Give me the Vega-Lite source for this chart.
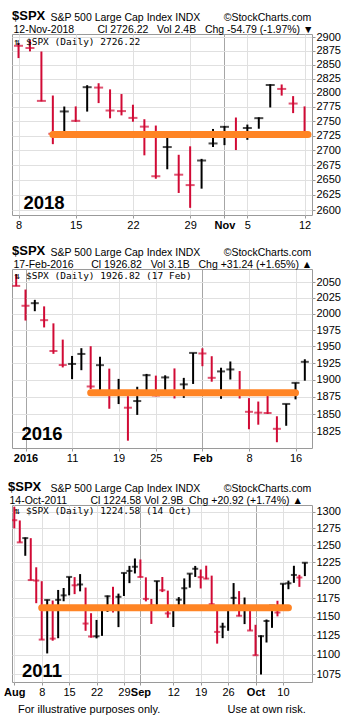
{
  "$schema": "https://vega.github.io/schema/vega-lite/v6.json",
  "padding": {"left": 3, "top": 9, "right": 0, "bottom": 0},
  "background": "white",
  "spacing": 13,
  "title": {"text": "For illustrative purposes only.\u00a0\u00a0\u00a0\u00a0\u00a0\u00a0\u00a0\u00a0\u00a0\u00a0\u00a0\u00a0\u00a0\u00a0\u00a0\u00a0\u00a0\u00a0\u00a0\u00a0\u00a0\u00a0Use at own risk.", "orient": "bottom", "anchor": "start", "frame": "group", "font": "Liberation Sans", "fontSize": 11, "fontWeight": "normal", "color": "#000000", "offset": 6, "dx": 6},
  "datasets": {
    "y2018": [
      {"d": "2018-10-08", "i": 0, "h": 2889.45, "l": 2862.08, "c": 2884.43, "dir": "down"},
      {"d": "2018-10-09", "i": 1, "h": 2894.83, "l": 2874.27, "c": 2880.34, "dir": "down"},
      {"d": "2018-10-10", "i": 2, "h": 2874.02, "l": 2784.86, "c": 2785.68, "dir": "down"},
      {"d": "2018-10-11", "i": 3, "h": 2795.14, "l": 2710.51, "c": 2728.37, "dir": "down"},
      {"d": "2018-10-12", "i": 4, "h": 2775.77, "l": 2729.44, "c": 2767.13, "dir": "up"},
      {"d": "2018-10-15", "i": 5, "h": 2775.99, "l": 2749.03, "c": 2750.79, "dir": "down"},
      {"d": "2018-10-16", "i": 6, "h": 2813.46, "l": 2766.91, "c": 2809.92, "dir": "up"},
      {"d": "2018-10-17", "i": 7, "h": 2816.94, "l": 2781.81, "c": 2809.21, "dir": "down"},
      {"d": "2018-10-18", "i": 8, "h": 2806.04, "l": 2755.18, "c": 2768.78, "dir": "down"},
      {"d": "2018-10-19", "i": 9, "h": 2797.77, "l": 2760.27, "c": 2767.78, "dir": "down"},
      {"d": "2018-10-22", "i": 10, "h": 2778.94, "l": 2749.22, "c": 2755.88, "dir": "down"},
      {"d": "2018-10-23", "i": 11, "h": 2753.59, "l": 2691.43, "c": 2740.69, "dir": "down"},
      {"d": "2018-10-24", "i": 12, "h": 2742.59, "l": 2651.89, "c": 2656.10, "dir": "down"},
      {"d": "2018-10-25", "i": 13, "h": 2722.70, "l": 2667.84, "c": 2705.57, "dir": "up"},
      {"d": "2018-10-26", "i": 14, "h": 2692.38, "l": 2628.16, "c": 2658.69, "dir": "down"},
      {"d": "2018-10-29", "i": 15, "h": 2706.85, "l": 2603.54, "c": 2641.25, "dir": "down"},
      {"d": "2018-10-30", "i": 16, "h": 2685.43, "l": 2635.34, "c": 2682.63, "dir": "up"},
      {"d": "2018-10-31", "i": 17, "h": 2736.69, "l": 2705.60, "c": 2711.74, "dir": "up"},
      {"d": "2018-11-01", "i": 18, "h": 2741.67, "l": 2708.85, "c": 2740.37, "dir": "up"},
      {"d": "2018-11-02", "i": 19, "h": 2756.55, "l": 2700.44, "c": 2723.06, "dir": "down"},
      {"d": "2018-11-05", "i": 20, "h": 2744.27, "l": 2717.94, "c": 2738.31, "dir": "up"},
      {"d": "2018-11-06", "i": 21, "h": 2756.82, "l": 2737.08, "c": 2755.45, "dir": "up"},
      {"d": "2018-11-07", "i": 22, "h": 2815.15, "l": 2774.13, "c": 2813.89, "dir": "up"},
      {"d": "2018-11-08", "i": 23, "h": 2814.75, "l": 2794.99, "c": 2806.83, "dir": "down"},
      {"d": "2018-11-09", "i": 24, "h": 2794.10, "l": 2764.24, "c": 2781.01, "dir": "down"},
      {"d": "2018-11-12", "i": 25, "h": 2775.99, "l": 2722.00, "c": 2726.22, "dir": "down"}
    ],
    "y2016": [
      {"d": "2015-12-31", "i": -1, "h": 2062.54, "l": 2043.62, "c": 2043.94, "dir": "down"},
      {"d": "2016-01-04", "i": 0, "h": 2038.20, "l": 1989.68, "c": 2012.66, "dir": "down"},
      {"d": "2016-01-05", "i": 1, "h": 2021.94, "l": 2004.17, "c": 2016.71, "dir": "up"},
      {"d": "2016-01-06", "i": 2, "h": 2011.71, "l": 1979.05, "c": 1990.26, "dir": "down"},
      {"d": "2016-01-07", "i": 3, "h": 1985.32, "l": 1938.83, "c": 1943.09, "dir": "down"},
      {"d": "2016-01-08", "i": 4, "h": 1960.40, "l": 1918.46, "c": 1922.03, "dir": "down"},
      {"d": "2016-01-11", "i": 5, "h": 1935.65, "l": 1901.10, "c": 1923.67, "dir": "up"},
      {"d": "2016-01-12", "i": 6, "h": 1947.38, "l": 1914.35, "c": 1938.68, "dir": "up"},
      {"d": "2016-01-13", "i": 7, "h": 1950.33, "l": 1886.41, "c": 1890.28, "dir": "down"},
      {"d": "2016-01-14", "i": 8, "h": 1934.47, "l": 1878.93, "c": 1921.84, "dir": "up"},
      {"d": "2016-01-15", "i": 9, "h": 1916.68, "l": 1857.83, "c": 1880.33, "dir": "down"},
      {"d": "2016-01-19", "i": 10, "h": 1901.44, "l": 1864.60, "c": 1881.33, "dir": "up"},
      {"d": "2016-01-20", "i": 11, "h": 1876.18, "l": 1812.29, "c": 1859.33, "dir": "down"},
      {"d": "2016-01-21", "i": 12, "h": 1889.85, "l": 1848.98, "c": 1868.99, "dir": "up"},
      {"d": "2016-01-22", "i": 13, "h": 1908.85, "l": 1877.40, "c": 1906.90, "dir": "up"},
      {"d": "2016-01-25", "i": 14, "h": 1906.28, "l": 1875.97, "c": 1877.08, "dir": "down"},
      {"d": "2016-01-26", "i": 15, "h": 1906.73, "l": 1878.79, "c": 1903.63, "dir": "up"},
      {"d": "2016-01-27", "i": 16, "h": 1916.99, "l": 1872.70, "c": 1882.95, "dir": "down"},
      {"d": "2016-01-28", "i": 17, "h": 1902.96, "l": 1873.65, "c": 1893.36, "dir": "up"},
      {"d": "2016-01-29", "i": 18, "h": 1940.24, "l": 1894.00, "c": 1940.24, "dir": "up"},
      {"d": "2016-02-01", "i": 19, "h": 1947.20, "l": 1920.30, "c": 1939.38, "dir": "down"},
      {"d": "2016-02-02", "i": 20, "h": 1935.26, "l": 1897.29, "c": 1903.03, "dir": "down"},
      {"d": "2016-02-03", "i": 21, "h": 1918.01, "l": 1872.23, "c": 1912.53, "dir": "up"},
      {"d": "2016-02-04", "i": 22, "h": 1927.35, "l": 1900.52, "c": 1915.45, "dir": "up"},
      {"d": "2016-02-05", "i": 23, "h": 1913.07, "l": 1872.65, "c": 1880.05, "dir": "down"},
      {"d": "2016-02-08", "i": 24, "h": 1873.25, "l": 1828.46, "c": 1853.44, "dir": "down"},
      {"d": "2016-02-09", "i": 25, "h": 1868.25, "l": 1834.94, "c": 1852.21, "dir": "down"},
      {"d": "2016-02-10", "i": 26, "h": 1881.60, "l": 1850.32, "c": 1851.86, "dir": "down"},
      {"d": "2016-02-11", "i": 27, "h": 1847.00, "l": 1810.10, "c": 1829.08, "dir": "down"},
      {"d": "2016-02-12", "i": 28, "h": 1864.78, "l": 1833.40, "c": 1864.78, "dir": "up"},
      {"d": "2016-02-16", "i": 29, "h": 1895.77, "l": 1871.44, "c": 1895.58, "dir": "up"},
      {"d": "2016-02-17", "i": 30, "h": 1930.68, "l": 1898.80, "c": 1926.82, "dir": "up"}
    ],
    "y2011": [
      {"d": "2011-08-01", "i": 0, "h": 1307.38, "l": 1274.73, "c": 1286.94, "dir": "down"},
      {"d": "2011-08-02", "i": 1, "h": 1286.56, "l": 1254.03, "c": 1254.05, "dir": "down"},
      {"d": "2011-08-03", "i": 2, "h": 1261.20, "l": 1234.56, "c": 1260.34, "dir": "up"},
      {"d": "2011-08-04", "i": 3, "h": 1260.23, "l": 1199.54, "c": 1200.07, "dir": "down"},
      {"d": "2011-08-05", "i": 4, "h": 1218.11, "l": 1168.09, "c": 1199.38, "dir": "down"},
      {"d": "2011-08-08", "i": 5, "h": 1198.48, "l": 1119.28, "c": 1119.46, "dir": "down"},
      {"d": "2011-08-09", "i": 6, "h": 1172.88, "l": 1101.54, "c": 1172.53, "dir": "up"},
      {"d": "2011-08-10", "i": 7, "h": 1171.77, "l": 1118.01, "c": 1120.76, "dir": "down"},
      {"d": "2011-08-11", "i": 8, "h": 1186.29, "l": 1121.30, "c": 1172.64, "dir": "up"},
      {"d": "2011-08-12", "i": 9, "h": 1189.04, "l": 1170.74, "c": 1178.81, "dir": "up"},
      {"d": "2011-08-15", "i": 10, "h": 1204.49, "l": 1178.86, "c": 1204.49, "dir": "up"},
      {"d": "2011-08-16", "i": 11, "h": 1204.22, "l": 1180.53, "c": 1192.76, "dir": "down"},
      {"d": "2011-08-17", "i": 12, "h": 1208.47, "l": 1184.36, "c": 1193.89, "dir": "up"},
      {"d": "2011-08-18", "i": 13, "h": 1189.62, "l": 1131.03, "c": 1140.65, "dir": "down"},
      {"d": "2011-08-19", "i": 14, "h": 1154.54, "l": 1122.05, "c": 1123.53, "dir": "down"},
      {"d": "2011-08-22", "i": 15, "h": 1145.49, "l": 1121.09, "c": 1123.82, "dir": "up"},
      {"d": "2011-08-23", "i": 16, "h": 1162.35, "l": 1124.36, "c": 1162.35, "dir": "up"},
      {"d": "2011-08-24", "i": 17, "h": 1178.56, "l": 1156.30, "c": 1177.60, "dir": "up"},
      {"d": "2011-08-25", "i": 18, "h": 1190.68, "l": 1155.47, "c": 1159.27, "dir": "down"},
      {"d": "2011-08-26", "i": 19, "h": 1181.23, "l": 1135.91, "c": 1176.80, "dir": "up"},
      {"d": "2011-08-29", "i": 20, "h": 1210.28, "l": 1177.91, "c": 1210.08, "dir": "up"},
      {"d": "2011-08-30", "i": 21, "h": 1220.10, "l": 1195.77, "c": 1212.92, "dir": "up"},
      {"d": "2011-08-31", "i": 22, "h": 1230.71, "l": 1209.35, "c": 1218.89, "dir": "up"},
      {"d": "2011-09-01", "i": 23, "h": 1229.29, "l": 1203.85, "c": 1204.42, "dir": "down"},
      {"d": "2011-09-02", "i": 24, "h": 1203.90, "l": 1170.56, "c": 1173.97, "dir": "down"},
      {"d": "2011-09-06", "i": 25, "h": 1173.97, "l": 1140.13, "c": 1165.24, "dir": "down"},
      {"d": "2011-09-07", "i": 26, "h": 1198.62, "l": 1165.85, "c": 1198.62, "dir": "up"},
      {"d": "2011-09-08", "i": 27, "h": 1204.40, "l": 1183.34, "c": 1185.90, "dir": "down"},
      {"d": "2011-09-09", "i": 28, "h": 1185.37, "l": 1148.37, "c": 1154.23, "dir": "down"},
      {"d": "2011-09-12", "i": 29, "h": 1162.52, "l": 1136.07, "c": 1162.27, "dir": "up"},
      {"d": "2011-09-13", "i": 30, "h": 1176.41, "l": 1157.44, "c": 1172.87, "dir": "up"},
      {"d": "2011-09-14", "i": 31, "h": 1202.38, "l": 1162.73, "c": 1188.68, "dir": "up"},
      {"d": "2011-09-15", "i": 32, "h": 1209.11, "l": 1189.44, "c": 1209.11, "dir": "up"},
      {"d": "2011-09-16", "i": 33, "h": 1220.06, "l": 1204.46, "c": 1216.01, "dir": "up"},
      {"d": "2011-09-19", "i": 34, "h": 1214.99, "l": 1188.36, "c": 1204.09, "dir": "down"},
      {"d": "2011-09-20", "i": 35, "h": 1220.39, "l": 1201.29, "c": 1202.09, "dir": "down"},
      {"d": "2011-09-21", "i": 36, "h": 1206.30, "l": 1166.21, "c": 1166.76, "dir": "down"},
      {"d": "2011-09-22", "i": 37, "h": 1164.55, "l": 1114.22, "c": 1129.56, "dir": "down"},
      {"d": "2011-09-23", "i": 38, "h": 1141.72, "l": 1121.36, "c": 1136.43, "dir": "up"},
      {"d": "2011-09-26", "i": 39, "h": 1164.19, "l": 1131.07, "c": 1162.95, "dir": "up"},
      {"d": "2011-09-27", "i": 40, "h": 1195.86, "l": 1163.32, "c": 1175.38, "dir": "up"},
      {"d": "2011-09-28", "i": 41, "h": 1184.71, "l": 1150.40, "c": 1151.06, "dir": "down"},
      {"d": "2011-09-29", "i": 42, "h": 1175.87, "l": 1139.93, "c": 1160.40, "dir": "up"},
      {"d": "2011-09-30", "i": 43, "h": 1159.93, "l": 1131.34, "c": 1131.42, "dir": "down"},
      {"d": "2011-10-03", "i": 44, "h": 1138.99, "l": 1098.92, "c": 1099.23, "dir": "down"},
      {"d": "2011-10-04", "i": 45, "h": 1125.12, "l": 1074.77, "c": 1123.95, "dir": "up"},
      {"d": "2011-10-05", "i": 46, "h": 1146.07, "l": 1115.68, "c": 1144.03, "dir": "up"},
      {"d": "2011-10-06", "i": 47, "h": 1165.55, "l": 1134.95, "c": 1164.97, "dir": "up"},
      {"d": "2011-10-07", "i": 48, "h": 1171.40, "l": 1150.26, "c": 1155.46, "dir": "down"},
      {"d": "2011-10-10", "i": 49, "h": 1194.91, "l": 1158.15, "c": 1194.89, "dir": "up"},
      {"d": "2011-10-11", "i": 50, "h": 1199.24, "l": 1187.30, "c": 1195.54, "dir": "up"},
      {"d": "2011-10-12", "i": 51, "h": 1220.25, "l": 1196.19, "c": 1207.25, "dir": "up"},
      {"d": "2011-10-13", "i": 52, "h": 1207.46, "l": 1190.58, "c": 1203.66, "dir": "down"},
      {"d": "2011-10-14", "i": 53, "h": 1224.61, "l": 1205.65, "c": 1224.58, "dir": "up"}
    ]
  },
  "vconcat": [
    {
      "width": 300, "height": 181,
      "title": {"text": "$SPX", "anchor": "start", "frame": "group", "font": "Liberation Sans", "fontSize": 13, "fontWeight": "bold", "color": "#000000", "baseline": "alphabetic", "offset": -21},
      "layer": [
        {
          "data": {"name": "y2018"},
          "mark": {"type": "rule", "strokeWidth": 2, "clip": true},
          "encoding": {
            "x": {"field": "i", "type": "quantitative", "scale": {"domain": [-0.57, 25.65], "nice": false, "zero": false},
              "axis": {"orient": "bottom", "values": [0, 5, 10, 15, 18, 20, 25],
                "labelExpr": "['8','15','22','29','Nov','5','12'][indexof([0,5,10,15,18,20,25], datum.value)]",
                "labelFontWeight": {"condition": {"test": "datum.value === 18", "value": "bold"}, "value": "normal"},
                "gridColor": {"condition": {"test": "datum.value === 18", "value": "#a6a6a6"}, "value": "#e0e0e0"},
                "grid": true, "tickSize": 3, "labelPadding": 1, "labelOverlap": false, "labelFlush": false, "labelBound": false,
                "title": "2018", "titleFontSize": 18.5, "titleFontWeight": "bold", "titleX": 11, "titleY": -7, "titleAlign": "left", "titleBaseline": "alphabetic"}},
            "y": {"field": "l", "type": "quantitative", "scale": {"type": "log", "domain": [2591.8, 2906], "nice": false, "zero": false},
              "axis": {"orient": "right", "values": [2600, 2625, 2650, 2675, 2700, 2725, 2750, 2775, 2800, 2825, 2850, 2875, 2900], "format": "d",
                "grid": true, "tickSize": 3, "labelPadding": 1, "labelOverlap": false, "labelFlush": false, "labelBound": false,
                "title": "S&P 500 Large Cap Index INDX\u00a0\u00a0\u00a0\u00a0\u00a0\u00a0\u00a0\u00a0©StockCharts.com", "titleAngle": 0, "titleX": -262, "titleY": -14, "titleAlign": "left", "titleBaseline": "alphabetic", "titleFontSize": 10.5, "titleFontWeight": "normal"}},
            "y2": {"field": "h"},
            "color": {"field": "dir", "type": "nominal", "scale": {"domain": ["up", "down"], "range": ["#000000", "#d10a35"]}, "legend": null}
          }
        },
        {
          "data": {"name": "y2018"},
          "mark": {"type": "tick", "orient": "horizontal", "size": 9, "thickness": 2, "clip": true},
          "encoding": {
            "x": {"field": "i", "type": "quantitative",
              "axis": {"orient": "top", "labels": false, "ticks": false, "grid": false, "domain": false,
                "title": "12-Nov-2018\u00a0\u00a0\u00a0\u00a0\u00a0\u00a0\u00a0\u00a0Cl 2726.22\u00a0\u00a0\u00a0Vol 2.4B\u00a0\u00a0\u00a0Chg -54.79 (-1.97%) ▼", "titleX": 1, "titleY": -2, "titleAlign": "left", "titleBaseline": "alphabetic", "titleFontSize": 10.5, "titleFontWeight": "normal"}},
            "y": {"field": "c", "type": "quantitative",
              "axis": {"orient": "left", "labels": false, "ticks": false, "grid": false, "domain": false, "zindex": 1,
                "title": "⇅ $SPX (Daily) 2726.22", "titleAngle": 0, "titleX": 2, "titleY": 10, "titleAlign": "left", "titleBaseline": "alphabetic", "titleFont": "DejaVu Sans Mono", "titleFontSize": 9.5, "titleFontWeight": "normal"}},
            "color": {"field": "dir", "type": "nominal", "legend": null}
          }
        },
        {
          "data": {"values": [{"start": 3, "end": 25.3, "level": 2727}]},
          "mark": {"type": "rule", "color": "#ff8424", "strokeWidth": 7, "strokeCap": "round"},
          "encoding": {
            "x": {"field": "start", "type": "quantitative", "axis": null},
            "x2": {"field": "end"},
            "y": {"field": "level", "type": "quantitative", "axis": null}
          }
        }
      ],
      "resolve": {"axis": {"x": "independent", "y": "independent"}}
    },
    {
      "width": 300, "height": 179,
      "title": {"text": "$SPX", "anchor": "start", "frame": "group", "font": "Liberation Sans", "fontSize": 13, "fontWeight": "bold", "color": "#000000", "baseline": "alphabetic", "offset": -21},
      "layer": [
        {
          "data": {"name": "y2016"},
          "mark": {"type": "rule", "strokeWidth": 2, "clip": true},
          "encoding": {
            "x": {"field": "i", "type": "quantitative", "scale": {"domain": [-1.45, 30.77], "nice": false, "zero": false},
              "axis": {"orient": "bottom", "values": [0, 5, 10, 14, 19, 24, 29],
                "labelExpr": "['2016','11','19','25','Feb','8','16'][indexof([0,5,10,14,19,24,29], datum.value)]",
                "labelFontWeight": {"condition": {"test": "datum.value === 0 || datum.value === 19", "value": "bold"}, "value": "normal"},
                "gridColor": {"condition": {"test": "datum.value === 0 || datum.value === 19", "value": "#a6a6a6"}, "value": "#e0e0e0"},
                "grid": true, "tickSize": 3, "labelPadding": 1, "labelOverlap": false, "labelFlush": false, "labelBound": false, "minExtent": 18,
                "title": "2016", "titleFontSize": 18.5, "titleFontWeight": "bold", "titleX": 9, "titleY": -9, "titleAlign": "left", "titleBaseline": "alphabetic"}},
            "y": {"field": "l", "type": "quantitative", "scale": {"type": "log", "domain": [1802, 2071], "nice": false, "zero": false},
              "axis": {"orient": "right", "values": [1825, 1850, 1875, 1900, 1925, 1950, 1975, 2000, 2025, 2050], "format": "d",
                "grid": true, "tickSize": 3, "labelPadding": 1, "labelOverlap": false, "labelFlush": false, "labelBound": false,
                "title": "S&P 500 Large Cap Index INDX\u00a0\u00a0\u00a0\u00a0\u00a0\u00a0\u00a0\u00a0©StockCharts.com", "titleAngle": 0, "titleX": -262, "titleY": -14, "titleAlign": "left", "titleBaseline": "alphabetic", "titleFontSize": 10.5, "titleFontWeight": "normal"}},
            "y2": {"field": "h"},
            "color": {"field": "dir", "type": "nominal", "scale": {"domain": ["up", "down"], "range": ["#000000", "#d10a35"]}, "legend": null}
          }
        },
        {
          "data": {"name": "y2016"},
          "mark": {"type": "tick", "orient": "horizontal", "size": 8, "thickness": 2, "clip": true},
          "encoding": {
            "x": {"field": "i", "type": "quantitative",
              "axis": {"orient": "top", "labels": false, "ticks": false, "grid": false, "domain": false,
                "title": "17-Feb-2016\u00a0\u00a0\u00a0\u00a0\u00a0\u00a0Cl 1926.82\u00a0\u00a0\u00a0Vol 3.1B\u00a0\u00a0\u00a0Chg +31.24 (+1.65%) ▲", "titleX": 1, "titleY": -2, "titleAlign": "left", "titleBaseline": "alphabetic", "titleFontSize": 10.5, "titleFontWeight": "normal"}},
            "y": {"field": "c", "type": "quantitative",
              "axis": {"orient": "left", "labels": false, "ticks": false, "grid": false, "domain": false, "zindex": 1,
                "title": "⇅ $SPX (Daily) 1926.82 (17 Feb)", "titleAngle": 0, "titleX": 2, "titleY": 9, "titleAlign": "left", "titleBaseline": "alphabetic", "titleFont": "DejaVu Sans Mono", "titleFontSize": 9.5, "titleFontWeight": "normal"}},
            "color": {"field": "dir", "type": "nominal", "legend": null}
          }
        },
        {
          "data": {"values": [{"start": 7, "end": 29, "level": 1881}]},
          "mark": {"type": "rule", "color": "#ff8424", "strokeWidth": 7, "strokeCap": "round"},
          "encoding": {
            "x": {"field": "start", "type": "quantitative", "axis": null},
            "x2": {"field": "end"},
            "y": {"field": "level", "type": "quantitative", "axis": null}
          }
        }
      ],
      "resolve": {"axis": {"x": "independent", "y": "independent"}}
    },
    {
      "width": 300, "height": 177,
      "title": {"text": "$SPX", "anchor": "start", "frame": "group", "font": "Liberation Sans", "fontSize": 13, "fontWeight": "bold", "color": "#000000", "baseline": "alphabetic", "offset": -21, "dx": -4},
      "layer": [
        {
          "data": {"name": "y2011"},
          "mark": {"type": "rule", "strokeWidth": 2, "clip": true},
          "encoding": {
            "x": {"field": "i", "type": "quantitative", "scale": {"domain": [-0.42, 54.3], "nice": false, "zero": false},
              "axis": {"orient": "bottom", "values": [0, 5, 10, 15, 20, 23, 29, 34, 39, 44, 49],
                "labelExpr": "['Aug','8','15','22','29','Sep','12','19','26','Oct','10'][indexof([0,5,10,15,20,23,29,34,39,44,49], datum.value)]",
                "labelFontWeight": {"condition": {"test": "datum.value === 0 || datum.value === 23 || datum.value === 44", "value": "bold"}, "value": "normal"},
                "gridColor": {"condition": {"test": "datum.value === 23 || datum.value === 44", "value": "#a6a6a6"}, "value": "#e0e0e0"},
                "grid": true, "tickSize": 3, "labelPadding": 1, "labelOverlap": false, "labelFlush": false, "labelBound": false,
                "title": "2011", "titleFontSize": 18.5, "titleFontWeight": "bold", "titleX": 9.5, "titleY": -6, "titleAlign": "left", "titleBaseline": "alphabetic"}},
            "y": {"field": "l", "type": "quantitative", "scale": {"type": "log", "domain": [1065.4, 1310], "nice": false, "zero": false},
              "axis": {"orient": "right", "values": [1075, 1100, 1125, 1150, 1175, 1200, 1225, 1250, 1275, 1300], "format": "d",
                "grid": true, "tickSize": 3, "labelPadding": 1, "labelOverlap": false, "labelFlush": false, "labelBound": false,
                "title": "S&P 500 Large Cap Index INDX\u00a0\u00a0\u00a0\u00a0\u00a0\u00a0\u00a0\u00a0©StockCharts.com", "titleAngle": 0, "titleX": -262, "titleY": -14, "titleAlign": "left", "titleBaseline": "alphabetic", "titleFontSize": 10.5, "titleFontWeight": "normal"}},
            "y2": {"field": "h"},
            "color": {"field": "dir", "type": "nominal", "scale": {"domain": ["up", "down"], "range": ["#000000", "#d10a35"]}, "legend": null}
          }
        },
        {
          "data": {"name": "y2011"},
          "mark": {"type": "tick", "orient": "horizontal", "size": 6, "thickness": 2, "clip": true},
          "encoding": {
            "x": {"field": "i", "type": "quantitative",
              "axis": {"orient": "top", "labels": false, "ticks": false, "grid": false, "domain": false,
                "title": "14-Oct-2011\u00a0\u00a0\u00a0\u00a0\u00a0\u00a0\u00a0\u00a0Cl 1224.58\u00a0Vol 2.9B\u00a0\u00a0Chg +20.92 (+1.74%) ▲", "titleX": -3, "titleY": -2, "titleAlign": "left", "titleBaseline": "alphabetic", "titleFontSize": 10.5, "titleFontWeight": "normal"}},
            "y": {"field": "c", "type": "quantitative",
              "axis": {"orient": "left", "labels": false, "ticks": false, "grid": false, "domain": false, "zindex": 1,
                "title": "⇅ $SPX (Daily) 1224.58 (14 Oct)", "titleAngle": 0, "titleX": 2, "titleY": 8, "titleAlign": "left", "titleBaseline": "alphabetic", "titleFont": "DejaVu Sans Mono", "titleFontSize": 9.5, "titleFontWeight": "normal"}},
            "color": {"field": "dir", "type": "nominal", "legend": null}
          }
        },
        {
          "data": {"values": [{"start": 5, "end": 50, "level": 1162}]},
          "mark": {"type": "rule", "color": "#ff8424", "strokeWidth": 7, "strokeCap": "round"},
          "encoding": {
            "x": {"field": "start", "type": "quantitative", "axis": null},
            "x2": {"field": "end"},
            "y": {"field": "level", "type": "quantitative", "axis": null}
          }
        }
      ],
      "resolve": {"axis": {"x": "independent", "y": "independent"}}
    }
  ],
  "config": {
    "view": {"stroke": "#9a9a9a", "strokeWidth": 1},
    "axis": {"domain": false, "labelFont": "Liberation Sans", "labelFontSize": 11, "labelColor": "#000000", "titleFont": "Liberation Sans", "titleColor": "#000000", "tickColor": "#999999", "gridColor": "#e0e0e0", "minExtent": 0}
  }
}
